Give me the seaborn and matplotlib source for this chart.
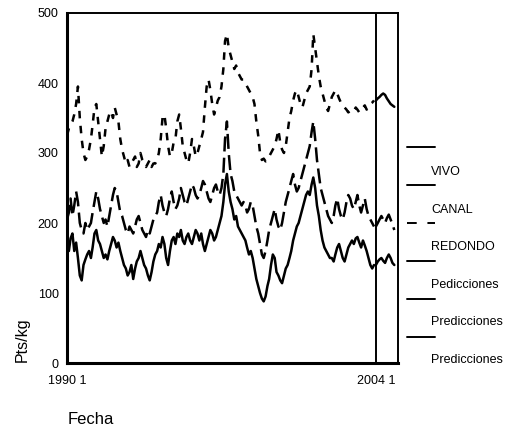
import numpy as np
import pandas as pd
import matplotlib
matplotlib.use("Agg")
import matplotlib.pyplot as plt
from matplotlib.lines import Line2D
import seaborn as sns

sns.set_theme(style="white")
plt.rcParams['font.family'] = ['Liberation Sans', 'DejaVu Sans']

# ---------------- data (monthly, 1990-01 .. 2003-12) ----------------
vivo = [
    170, 160, 178, 185, 160, 172, 150, 125, 118, 140, 148, 155,   # 1990
    160, 150, 165, 185, 190, 175, 170, 160, 150, 155, 148, 160,   # 1991
    170, 180, 175, 165, 172, 160, 150, 140, 135, 125, 130, 140,   # 1992
    120, 135, 145, 150, 160, 150, 140, 135, 125, 118, 130, 145,   # 1993
    155, 160, 170, 165, 180, 170, 150, 140, 160, 175, 180, 170,   # 1994
    185, 180, 190, 175, 170, 180, 185, 175, 170, 180, 190, 185,   # 1995
    175, 185, 170, 160, 170, 180, 190, 185, 175, 180, 190, 200,   # 1996
    210, 230, 255, 270, 245, 230, 220, 205, 210, 195, 190, 185,   # 1997
    180, 175, 165, 155, 160, 150, 135, 120, 110, 100, 92, 88,     # 1998
    95, 110, 120, 140, 155, 150, 130, 125, 118, 114, 125, 135,    # 1999
    140, 150, 160, 175, 185, 195, 200, 210, 220, 230, 240, 245,   # 2000
    240, 255, 265, 250, 225, 210, 190, 175, 165, 160, 155, 150,   # 2001
    150, 145, 155, 165, 170, 160, 150, 145, 155, 165, 170, 175,   # 2002
    170, 178, 180, 172, 165, 175, 168, 160, 150, 140, 135, 140,   # 2003
]
canal = [
    205, 215, 235, 210, 225, 245, 230, 200, 190, 185, 200, 190,
    195, 200, 215, 230, 245, 235, 220, 210, 200, 205, 195, 210,
    225, 240, 250, 245, 230, 215, 210, 200, 190, 185, 195, 190,
    185, 195, 205, 210, 200, 190, 185, 180, 190, 185, 195, 205,
    210, 215, 230, 240, 225, 215, 210, 220, 235, 245, 230, 220,
    225, 235, 250, 240, 230, 225, 235, 245, 255, 250, 240, 235,
    240, 250, 260, 255, 245, 235, 230, 240, 250, 255, 245, 240,
    250, 270, 320, 345, 300, 270, 260, 245, 240, 235, 230, 225,
    230, 225, 215, 220, 230, 225, 210, 195, 185, 170, 155, 150,
    160, 175, 190, 200, 210, 220, 205, 195, 190, 200, 215, 230,
    240, 250, 260, 270, 255, 245, 250, 260, 270, 280, 290, 300,
    310, 330, 345, 320, 290, 270, 250, 240, 230, 220, 210, 205,
    200, 210, 225, 235, 220, 210, 205, 215, 230, 240, 235, 225,
    220, 230, 240, 225, 215, 225, 235, 220, 210, 205, 200, 195,
]
redondo = [
    325, 335, 340, 345, 355, 370, 395, 350, 320, 300, 290, 295,
    305, 320, 340, 365, 370, 345, 320, 295, 310, 335, 345, 355,
    360, 350, 365, 355, 345, 320, 305, 295, 285, 290, 280, 285,
    290, 295, 280, 285, 300, 290, 285, 280, 285, 290, 280, 285,
    285, 290, 300, 320, 350, 355, 335, 310, 295, 300, 315, 320,
    345, 355, 335, 310, 300, 290, 285, 300, 320, 310, 295, 300,
    310, 320, 330, 365, 395, 405, 390, 370, 355, 365, 375, 380,
    395, 420, 460, 470, 450, 440, 430, 420, 425, 415, 410, 405,
    405, 400, 395, 390, 385, 380, 370, 345, 325, 300, 290, 292,
    288, 290, 295, 300, 305, 310, 320, 333, 315, 305, 300, 310,
    330, 350, 360, 375, 385, 390, 380, 370, 365, 375, 385, 390,
    395, 420, 470, 450, 430, 410, 395, 385, 375, 365, 360, 370,
    380, 385, 390, 385, 378, 372, 370, 365, 362, 358, 360, 362,
    360, 365, 362, 358, 360, 365, 368, 362, 365, 370, 372, 375,
]
# predictions 2004
pred_vivo = [140, 145, 148, 150, 146, 143, 150, 155, 150, 143, 140]
pred_canal = [195, 200, 205, 210, 205, 200, 207, 212, 205, 198, 190]
pred_redondo = [375, 378, 380, 383, 385, 383, 378, 374, 370, 368, 366]

legend_labels = ["VIVO", "CANAL", "REDONDO", "Pedicciones", "Predicciones", "Predicciones"]
xtick_labels = ["1990 1", "2004 1"]
ytick_values = [0, 100, 200, 300, 400, 500]

dates = pd.date_range("1990-01-01", periods=len(vivo), freq="MS")
pdates = pd.date_range("2004-01-01", periods=len(pred_vivo), freq="MS")
hist = pd.DataFrame({"Fecha": dates, "VIVO": vivo, "CANAL": canal, "REDONDO": redondo})
pred = pd.DataFrame({"Fecha": pdates, "VIVO": pred_vivo, "CANAL": pred_canal,
                     "REDONDO": pred_redondo})

# ---------------- figure ----------------
fig = plt.figure(figsize=(5.07, 4.30), dpi=100)
ax = fig.add_axes([67 / 507, 1 - 363 / 430, (398 - 67) / 507, (363 - 13) / 430])

lw = 1.8
sns.lineplot(data=hist, x="Fecha", y="VIVO", ax=ax, color="black", linewidth=lw)
sns.lineplot(data=hist, x="Fecha", y="CANAL", ax=ax, color="black", linewidth=lw,
             linestyle=(0, (6, 2.5)))
sns.lineplot(data=hist, x="Fecha", y="REDONDO", ax=ax, color="black", linewidth=lw,
             linestyle=(0, (3, 3)))
sns.lineplot(data=pred, x="Fecha", y="VIVO", ax=ax, color="black", linewidth=lw)
sns.lineplot(data=pred, x="Fecha", y="CANAL", ax=ax, color="black", linewidth=lw,
             linestyle=(0, (6, 2.5)))
sns.lineplot(data=pred, x="Fecha", y="REDONDO", ax=ax, color="black", linewidth=lw)

ax.axvline(pd.Timestamp("2004-01-01"), color="black", linewidth=1.4)

ax.set_xlim(pd.Timestamp("1990-01-01"), pd.Timestamp("2005-01-01"))
ax.set_ylim(0, 500)
ax.set_xticks([pd.Timestamp("1990-01-01"), pd.Timestamp("2004-01-01")])
ax.set_xticklabels(xtick_labels)
ax.set_yticks(ytick_values)
ax.set_yticklabels([str(v) for v in ytick_values])
ax.tick_params(axis="both", direction="out", length=3, width=2.5, colors="black",
               labelsize=9, pad=3)
ax.tick_params(axis="x", pad=6)
ax.set_xlabel("")
ax.set_ylabel("")
for side in ["left", "bottom"]:
    ax.spines[side].set_linewidth(2.2)
    ax.spines[side].set_color("black")
for side in ["top", "right"]:
    ax.spines[side].set_linewidth(1.4)
    ax.spines[side].set_color("black")
ax.grid(False)

# axis titles
fig.text(22 / 507, 1 - 340 / 430, "Pts/kg", rotation=90, ha="center", va="center",
         fontsize=11.5, color="black")
fig.text(68 / 507, 1 - 420 / 430, "Fecha", ha="left", va="center", fontsize=12,
         color="black")

# legend (handles drawn above their labels, as in the reference)
styles = ["-", "-", (0, (5, 5.5)), "-", "-", "-"]
for i, (lab, ls) in enumerate(zip(legend_labels, styles)):
    yl = 147 + i * 37.9
    yt = 172 + i * 37.6
    fig.add_artist(Line2D([407 / 507, 435 / 507], [1 - yl / 430, 1 - yl / 430],
                          color="black", linewidth=1.4, linestyle=ls,
                          transform=fig.transFigure))
    fig.text(431 / 507, 1 - yt / 430, lab, ha="left", va="center", fontsize=9,
             color="black")

fig.savefig("out.png", dpi=100, facecolor="white")
